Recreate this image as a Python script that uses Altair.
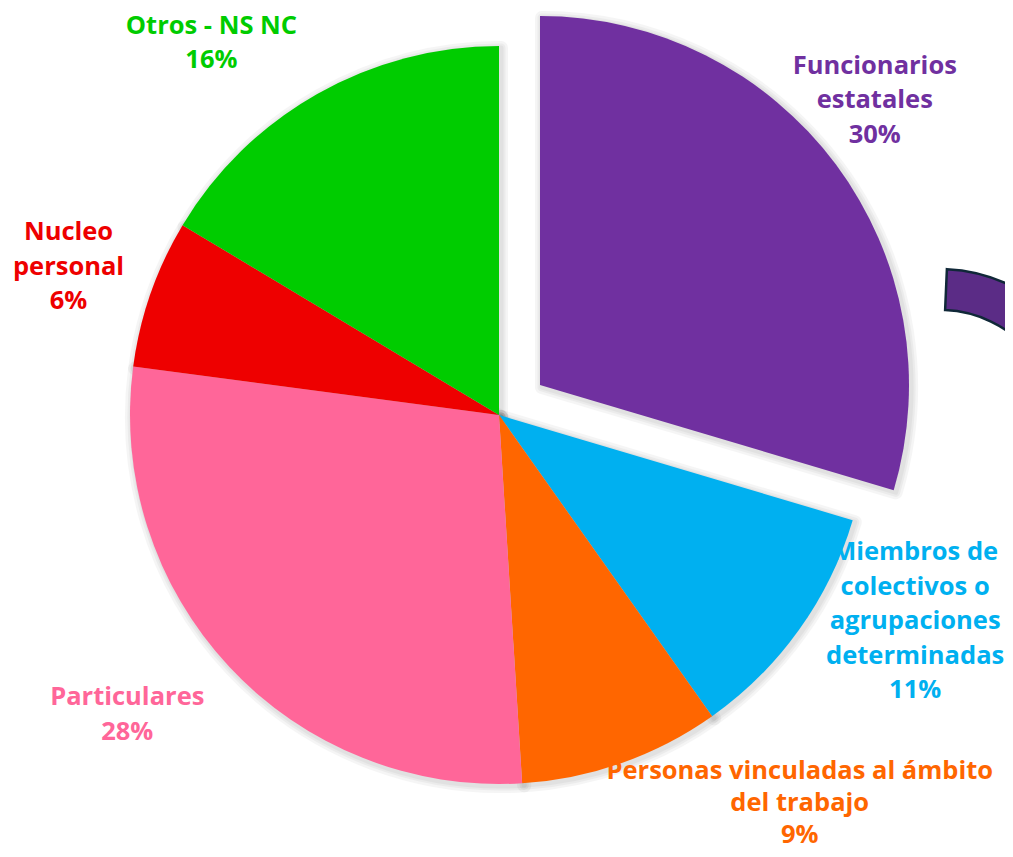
import altair as alt
import pandas as pd

# ---- data ----
categories = [
    "Funcionarios estatales",
    "Miembros de colectivos o agrupaciones determinadas",
    "Personas vinculadas al ámbito del trabajo",
    "Particulares",
    "Nucleo personal",
    "Otros - NS NC",
]
label_lines = [
    ["Funcionarios", "estatales"],
    ["Miembros de", "colectivos o", "agrupaciones", "determinadas"],
    ["Personas vinculadas al ámbito", "del trabajo"],
    ["Particulares"],
    ["Nucleo", "personal"],
    ["Otros - NS NC"],
]
values = [29.6, 10.6, 8.8, 28.1, 6.5, 16.4]
pct_labels = ["30%", "11%", "9%", "28%", "6%", "16%"]
colors = ["#7030A0", "#00B0F0", "#FF6600", "#FF6699", "#EE0000", "#00CC00"]

df = pd.DataFrame({
    "idx": list(range(len(categories))),
    "cat": categories,
    "value": values,
    "label": ["\n".join(l + [p]) for l, p in zip(label_lines, pct_labels)],
})

W, H = 997, 841
CX, CY = 491, 407
R = 369
EXP_X, EXP_Y = 41, -30

theta_scale = alt.Scale(domain=[0, 100])
color_enc = alt.Color("cat:N", scale=alt.Scale(domain=categories, range=colors), legend=None)

base = alt.Chart(df).encode(
    theta=alt.Theta("value:Q", stack=True, scale=theta_scale),
    order=alt.Order("idx:Q"),
    x=alt.value(CX),
    y=alt.value(CY),
)

is_exp = alt.datum.idx == 0

layers = []

# soft shadow around the pie (non-exploded part)
for w in [14, 9, 5]:
    layers.append(
        base.mark_arc(outerRadius=R, stroke="black", strokeWidth=w, fill="black",
                      strokeJoin="round", xOffset=2, yOffset=2)
        .encode(opacity=alt.condition(is_exp, alt.value(0), alt.value(0.035)))
    )
# soft shadow around the exploded slice
for w in [14, 9, 5]:
    layers.append(
        base.mark_arc(outerRadius=R, stroke="black", strokeWidth=w, fill="black",
                      strokeJoin="round", xOffset=EXP_X + 2, yOffset=EXP_Y + 2)
        .encode(opacity=alt.condition(is_exp, alt.value(0.035), alt.value(0)))
    )

# main slices
layers.append(
    base.mark_arc(outerRadius=R)
    .encode(color=color_enc, opacity=alt.condition(is_exp, alt.value(0), alt.value(1)))
)
# exploded slice
layers.append(
    base.mark_arc(outerRadius=R, xOffset=EXP_X, yOffset=EXP_Y)
    .encode(color=color_enc, opacity=alt.condition(is_exp, alt.value(1), alt.value(0)))
)

# decorative fragment at the right edge
deco = alt.Chart(df).transform_filter(alt.datum.idx == 0).mark_arc(
    innerRadius=118, outerRadius=159, fill="#5B2C86", stroke="#102838", strokeWidth=2.5
).encode(
    theta=alt.value(0.0434), theta2=alt.value(0.85),
    x=alt.value(932), y=alt.value(420),
)
layers.append(deco)

# labels: placed at slice mid-angle, with per-label radius, nudges and line height
label_pos = {
    0: (490, -17, -22, 34.5),
    1: (469, 35, -67, 34.5),
    2: (498, 135, -82, 32),
    3: (477, -23, -26, 34.5),
    4: (456, 0, 2, 34.5),
    5: (470, -56, 37, 34.5),
}
for i, (rad, ddx, ddy, lh) in label_pos.items():
    n_lines = len(label_lines[i]) + 1
    t = (
        alt.Chart(df)
        .transform_window(cum="sum(value)", sort=[alt.SortField("idx")])
        .transform_calculate(mid="datum.cum - datum.value / 2")
        .transform_filter(alt.datum.idx == i)
        .mark_text(radius=rad, dx=ddx, dy=ddy - (n_lines - 1) * lh / 2,
                   font="Open Sans", fontSize=25.5,
                   fontWeight="bold", align="center", baseline="middle",
                   lineBreak="\n", lineHeight=lh)
        .encode(
            theta=alt.Theta("mid:Q", scale=theta_scale),
            text="label:N",
            color=color_enc,
            x=alt.value(CX),
            y=alt.value(CY),
        )
    )
    layers.append(t)

chart = alt.layer(*layers).properties(
    width=W, height=H, autosize=alt.AutoSizeParams(type="none"), padding=0,
    background="white",
).configure_view(stroke=None)

chart.save("out.html", embed_options={"renderer": "svg", "actions": False})
